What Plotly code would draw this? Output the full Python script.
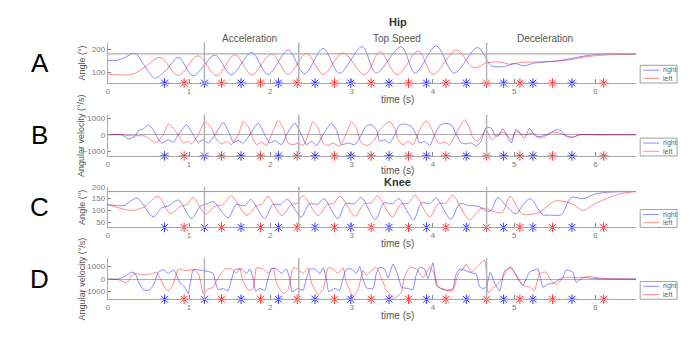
import plotly.graph_objects as go

# ---------------- data ----------------
phase_bounds = [1.19, 2.35, 4.66]
phase_names = ["Acceleration", "Top Speed", "Deceleration"]
phase_label_t = [1.74, 3.56, 5.38]

right_strikes = [0.70, 1.19, 1.64, 2.10, 2.55, 2.99, 3.46, 3.92, 4.41, 4.87, 5.23, 5.71]
left_strikes = [0.94, 1.40, 1.88, 2.33, 2.79, 3.24, 3.70, 4.16, 4.66, 5.07, 5.47, 6.10]

# A: hip angle
hipA_right_t = [0, 0.11, 0.2, 0.336, 0.45, 0.58, 0.72, 0.87, 1.05, 1.32, 1.52, 1.77, 1.97, 2.22, 2.42, 2.65,
                2.85, 3.13, 3.30, 3.61, 3.78, 4.04, 4.26, 4.55, 4.72, 4.88, 5.0, 5.12, 5.25, 5.4, 5.55, 5.7,
                5.85, 6.0, 6.2, 6.5]
hipA_right = [151, 151, 162, 183, 130, 74, 110, 165, 84, 175, 88, 187, 90, 197, 92, 204,
              95, 212, 96, 212, 96, 215, 96, 208, 128, 125, 138, 128, 140, 145, 150, 160,
              170, 178, 180, 180]
hipA_left_t = [0, 0.3, 0.45, 0.643, 0.87, 1.11, 1.34, 1.565, 1.77, 2.015, 2.22, 2.445, 2.65, 2.895, 3.16,
               3.35, 3.56, 3.82, 4.00, 4.29, 4.5, 4.66, 4.8, 4.95, 5.1, 5.3, 5.5, 5.7, 5.9, 6.1, 6.5]
hipA_left = [91, 90, 120, 165, 85, 172, 84, 177, 88, 180, 90, 183, 90, 185, 88,
             190, 88, 193, 90, 197, 120, 140, 145, 135, 143, 145, 148, 155, 168, 175, 178]

# B: hip angular velocity
hipB_right_t = [0.008, 0.172, 0.254, 0.336, 0.377, 0.438, 0.50, 0.561, 0.602, 0.663, 0.745, 0.807, 0.868,
                0.97, 1.052, 1.114, 1.175, 1.237, 1.319, 1.421, 1.503, 1.544, 1.605, 1.667, 1.749, 1.851,
                1.933, 1.994, 2.056, 2.138, 2.199, 2.301, 2.383, 2.445, 2.506, 2.568, 2.649, 2.752, 2.813,
                2.875, 2.957, 3.039, 3.12, 3.182, 3.243, 3.305, 3.346, 3.407, 3.469, 3.530, 3.591, 3.653,
                3.735, 3.796, 3.837, 3.899, 3.960, 4.021, 4.083, 4.144, 4.226, 4.288, 4.349, 4.410, 4.472,
                4.533, 4.595, 4.656, 4.718, 4.759, 4.799, 4.861, 4.922, 4.963, 5.025, 5.086, 5.127, 5.188,
                5.229, 5.270, 5.332, 5.414, 5.516, 5.578, 5.639, 5.721, 5.803, 6.048, 6.5]
hipB_right = [0, 0, -250, -100, 250, 350, 600, 300, -100, -500, -300, -450, 0,
              600, 0, -450, -300, -500, 0, 750, 0, -450, -350, -500, 0, 700,
              0, -500, -350, -600, 0, 700, 0, -600, -400, -650, 0, 700, 300,
              -600, -500, -600, 0, 550, 600, 300, -400, -300, -500, 0, 600, 650,
              500, 0, -500, -400, -650, 0, 550, 700, 600, 0, -500, -550, -500,
              -700, -350, 450, 400, 0, -100, 350, -200, -500, 350, 0, -200, 400,
              100, -100, -100, 50, 300, 250, -100, -150, 0, 0, 0]
hipB_left_t = [0.008, 0.172, 0.254, 0.336, 0.459, 0.54, 0.602, 0.684, 0.745, 0.807, 0.868, 0.93, 0.991,
               1.032, 1.114, 1.196, 1.278, 1.339, 1.40, 1.462, 1.523, 1.605, 1.667, 1.728, 1.79, 1.831,
               1.892, 1.953, 2.015, 2.097, 2.158, 2.22, 2.28, 2.343, 2.404, 2.465, 2.526, 2.588, 2.649,
               2.71, 2.772, 2.854, 2.928, 3.0, 3.06, 3.12, 3.20, 3.284, 3.346, 3.407, 3.469, 3.530, 3.571,
               3.632, 3.694, 3.755, 3.796, 3.858, 3.919, 3.981, 4.042, 4.083, 4.144, 4.206, 4.247, 4.329,
               4.390, 4.452, 4.493, 4.554, 4.595, 4.656, 4.718, 4.799, 4.861, 4.902, 4.963, 5.025, 5.086,
               5.148, 5.229, 5.311, 5.393, 5.475, 5.557, 5.639, 5.721, 5.803, 6.1, 6.5]
hipB_left = [0, 0, -50, -60, -80, -350, -450, 0, 650, 400, 0, -500, -400,
             -550, 0, 800, 400, -300, -550, -400, -600, 0, 800, 500, -300, -600,
             -450, -650, 0, 850, 400, -500, -600, -500, -650, 0, 800, 400, -500,
             -650, -500, -700, 0, 800, 400, -500, -650, -300, 300, 600, 800, 400, -300,
             -600, -400, -600, -200, 500, 850, 400, -300, -550, -450, -600, -300, 500,
             900, 400, -200, -400, -100, 300, -300, 0, 150, 50, -300, 200, 50,
             0, 100, -200, -50, 150, 100, -50, -150, 0, 0, 0]

# C: knee angle
kneeC_right_t = [0, 0.2, 0.36, 0.56, 0.66, 0.75, 0.87, 1.03, 1.14, 1.22, 1.30, 1.48, 1.58, 1.68, 1.76, 1.93,
                 2.03, 2.13, 2.21, 2.38, 2.48, 2.58, 2.66, 2.83, 2.93, 3.03, 3.12, 3.29, 3.40, 3.50, 3.58,
                 3.76, 3.86, 3.96, 4.04, 4.22, 4.33, 4.45, 4.55, 4.7, 4.8, 4.9, 5.02, 5.12, 5.2, 5.35, 5.45,
                 5.58, 5.7, 5.85, 6.0, 6.2, 6.5]
kneeC_right = [125, 121, 152, 72, 110, 120, 144, 65, 118, 128, 137, 68, 125, 120, 146, 65,
               125, 125, 148, 72, 128, 126, 150, 65, 130, 128, 155, 62, 132, 128, 150,
               60, 132, 128, 152, 62, 128, 120, 118, 95, 155, 120, 85, 130, 150, 82, 80,
               82, 155, 150, 170, 178, 180]
kneeC_left_t = [0, 0.29, 0.45, 0.62, 0.77, 0.9, 0.98, 1.05, 1.2, 1.32, 1.42, 1.52, 1.71, 1.83, 1.9, 1.97,
                2.14, 2.26, 2.33, 2.40, 2.59, 2.70, 2.78, 2.86, 3.04, 3.15, 3.24, 3.32, 3.50, 3.61, 3.70,
                3.78, 3.96, 4.07, 4.16, 4.24, 4.45, 4.6, 4.75, 4.85, 4.95, 5.1, 5.3, 5.5, 5.7, 5.85, 6.0,
                6.3, 6.5]
kneeC_left = [125, 100, 115, 160, 86, 118, 125, 155, 85, 118, 125, 162, 79, 120, 128, 160,
              78, 125, 130, 163, 78, 125, 130, 160, 75, 128, 132, 162, 72, 128, 130,
              165, 72, 130, 130, 165, 60, 110, 95, 90, 160, 85, 90, 140, 130, 100, 130,
              170, 180]

# D: knee angular velocity
kneeD_right_t = [0.008, 0.131, 0.233, 0.295, 0.336, 0.385, 0.438, 0.50, 0.54, 0.581, 0.622, 0.684, 0.745,
                 0.807, 0.848, 0.889, 0.95, 0.99, 1.02, 1.052, 1.155, 1.237, 1.298, 1.327, 1.36, 1.42, 1.48,
                 1.515, 1.564, 1.646, 1.708, 1.749, 1.79, 1.818, 1.871, 1.933, 1.966, 2.015, 2.076, 2.138,
                 2.199, 2.24, 2.268, 2.342, 2.404, 2.437, 2.486, 2.547, 2.609, 2.65, 2.69, 2.719, 2.793,
                 2.854, 2.887, 2.936, 2.998, 3.059, 3.10, 3.14, 3.182, 3.264, 3.305, 3.346, 3.407, 3.448,
                 3.51, 3.571, 3.612, 3.694, 3.755, 3.788, 3.837, 3.899, 3.94, 4.001, 4.042, 4.083, 4.165,
                 4.247, 4.28, 4.329, 4.41, 4.472, 4.533, 4.574, 4.615, 4.656, 4.705, 4.759, 4.82, 4.881,
                 4.963, 5.045, 5.107, 5.188, 5.291, 5.352, 5.414, 5.475, 5.598, 5.639, 5.721, 5.762, 5.844,
                 6.048, 6.5]
kneeD_right = [0, 0, 300, 550, 450, -300, -850, -900, -700, -200, 550, 750, 450,
               730, 300, -300, -650, -1150, -200, 750, 700, 600, 450, -300, -850, -750, -950,
               -200, 750, 800, 450, 800, 0, -950, -750, -900, -100, 850, 800, 450,
               800, 0, -1000, -750, -900, -100, 800, 800, 450, 900, 0, -1000, -750,
               -900, -100, 800, 800, 450, 1000, 0, -700, -760, 500, 940, 800, 100,
               1200, 300, -650, -750, -850, 200, 940, 800, 50, 1300, -500, -700, -900,
               -750, 300, 800, 650, 500, 400, -600, -750, -650, 550, -300, -950, 650,
               940, 0, -500, 550, 800, -650, -400, -350, 150, 730, 550, -250, 100,
               20, 0]
kneeD_left_t = [0.008, 0.131, 0.233, 0.315, 0.459, 0.54, 0.602, 0.655, 0.704, 0.745, 0.807, 0.868, 0.95,
                1.052, 1.114, 1.146, 1.175, 1.237, 1.298, 1.36, 1.441, 1.523, 1.585, 1.626, 1.655, 1.728,
                1.79, 1.83, 1.912, 1.974, 2.035, 2.076, 2.158, 2.22, 2.28, 2.342, 2.404, 2.465, 2.506,
                2.588, 2.65, 2.71, 2.772, 2.834, 2.895, 2.937, 3.018, 3.08, 3.14, 3.182, 3.243, 3.305,
                3.366, 3.43, 3.53, 3.61, 3.65, 3.714, 3.796, 3.878, 3.96, 4.021, 4.062, 4.165, 4.247,
                4.308, 4.37, 4.41, 4.472, 4.513, 4.595, 4.636, 4.66, 4.68, 4.72, 4.80, 4.86, 4.94, 5.02,
                5.107, 5.19, 5.25, 5.31, 5.39, 5.45, 5.52, 5.6, 5.68, 5.76, 5.84, 5.93, 6.05, 6.2, 6.5]
kneeD_left = [0, -50, -300, 400, 350, 420, 550, -100, -700, -950, -400, 800, 680,
              730, 450, -300, -1150, -800, -650, 100, 800, 800, 450, 850, 0, -900,
              -750, 900, 800, 450, 900, -300, -1150, -850, 900, 800, 450, 900, -300,
              -1250, -850, 900, 800, 450, 900, -300, -1350, -850, 700, 290, 700, 940,
              100, -900, -1500, -1100, 200, 940, 800, 100, 940, 400, -600, -900, -900,
              400, 800, 1200, 550, 800, 1330, 1500, 500, -1100, -800, -400, 150, 900, 400,
              -500, -650, -900, 420, 550, -100, -450, 100, 150, 100, 150, 200, 80, 20, 0]

x_ticks = [0, 1, 2, 3, 4, 5, 6]
ticks_A = [100, 200]
ticks_B = [-1000, 0, 1000]
ticks_C = [50, 100, 150, 200]
ticks_D = [-1000, 0, 1000]
ref_angle = 180

# ---------------- geometry / style ----------------
W, H = 700, 344
FONT = "Liberation Sans, Arial, Helvetica, sans-serif"
BLUE = "rgba(0,0,255,0.45)"
RED = "rgba(255,0,0,0.45)"
AXC = "#a8a8a8"
TXT = "#7a7a7a"

def py(v):
    return 1 - v / H

x_dom = [106 / W, 636 / W]
x_range = [0, 6.5]

panels = [
    dict(top=39, bot=80, yr=[52, 230], ticks=ticks_A, rt=hipA_right_t, r=hipA_right, lt=hipA_left_t,
         l=hipA_left, ylab="Angle (°)", tl=97, ref=True, sm=0.9),
    dict(top=112, bot=153.7, yr=[-1284, 1218], ticks=ticks_B, rt=hipB_right_t, r=hipB_right, lt=hipB_left_t,
         l=hipB_left, ylab="Angular velocity (°/s)", tl=168, ref=False, sm=0.6),
    dict(top=185, bot=226, yr=[28, 200], ticks=ticks_C, rt=kneeC_right_t, r=kneeC_right, lt=kneeC_left_t,
         l=kneeC_left, ylab="Angle (°)", tl=242, ref=True, sm=0.8),
    dict(top=257, bot=298.7, yr=[-1606, 1677], ticks=ticks_D, rt=kneeD_right_t, r=kneeD_right, lt=kneeD_left_t,
         l=kneeD_left, ylab="Angular velocity (°/s)", tl=315, ref=False, sm=0.45),
]
letters = ["A", "B", "C", "D"]

fig = go.Figure()
shapes = []
annotations = []
layout = dict(width=W, height=H, margin=dict(l=0, r=0, t=0, b=0), paper_bgcolor="white",
              plot_bgcolor="white", showlegend=False, font=dict(family=FONT))

for i, p in enumerate(panels):
    n = "" if i == 0 else str(i + 1)
    xa, ya = "x" + n, "y" + n
    base = p["yr"][0]
    fig.add_trace(go.Scatter(x=p["rt"], y=p["r"], mode="lines", xaxis=xa, yaxis=ya,
                             line=dict(color=BLUE, width=1, shape="spline", smoothing=p["sm"]),
                             name="right", hoverinfo="skip"))
    fig.add_trace(go.Scatter(x=p["lt"], y=p["l"], mode="lines", xaxis=xa, yaxis=ya,
                             line=dict(color=RED, width=1, shape="spline", smoothing=p["sm"]),
                             name="left", hoverinfo="skip"))
    fig.add_trace(go.Scatter(x=right_strikes, y=[base] * len(right_strikes), mode="markers",
                             xaxis=xa, yaxis=ya, cliponaxis=False,
                             marker=dict(symbol="asterisk-open", size=8, color="rgba(0,0,255,0.8)",
                                         line=dict(color="rgba(0,0,255,0.8)", width=1)),
                             hoverinfo="skip"))
    fig.add_trace(go.Scatter(x=left_strikes, y=[base] * len(left_strikes), mode="markers",
                             xaxis=xa, yaxis=ya, cliponaxis=False,
                             marker=dict(symbol="asterisk-open", size=8, color="rgba(255,0,0,0.8)",
                                         line=dict(color="rgba(255,0,0,0.8)", width=1)),
                             hoverinfo="skip"))
    layout["xaxis" + n] = dict(domain=x_dom, range=x_range, anchor=ya, tickvals=x_ticks,
                               ticks="inside", ticklen=4, tickcolor="#888", showline=True,
                               linecolor=AXC, linewidth=1.3, showgrid=False, zeroline=False,
                               tickfont=dict(size=8, color=TXT, family=FONT))
    layout["yaxis" + n] = dict(domain=[py(p["bot"]), py(p["top"])], range=p["yr"], anchor=xa,
                               tickvals=p["ticks"], ticks="inside", ticklen=3, tickcolor="#888",
                               showline=True, linecolor=AXC, linewidth=1, showgrid=False,
                               zeroline=not p["ref"], zerolinecolor="#b0b0b0", zerolinewidth=1,
                               tickfont=dict(size=8, color=TXT, family=FONT))
    if p["ref"]:
        shapes.append(dict(type="line", xref=xa + " domain", yref=ya, x0=0, x1=1, y0=ref_angle,
                           y1=ref_angle, line=dict(color="#9a9a9a", width=1)))
    for b in phase_bounds:
        shapes.append(dict(type="line", xref=xa, yref=ya + " domain", x0=b, x1=b, y0=0, y1=1,
                           line=dict(color="#b4b4b4", width=1.5)))
    lx0, lx1 = 640, 677
    ly1 = p["bot"]
    ly0 = ly1 - 18
    shapes.append(dict(type="rect", xref="paper", yref="paper", x0=lx0 / W, x1=lx1 / W,
                       y0=py(ly1), y1=py(ly0), line=dict(color="#a0a0a0", width=1),
                       fillcolor="white"))
    for k, (c, lab) in enumerate([(BLUE, "right"), (RED, "left")]):
        yy = ly0 + 5 + k * 8.3
        shapes.append(dict(type="line", xref="paper", yref="paper", x0=643 / W, x1=659 / W,
                           y0=py(yy), y1=py(yy), line=dict(color=c, width=1)))
        annotations.append(dict(text=lab, x=661 / W, y=py(yy), xref="paper", yref="paper",
                                xanchor="left", yanchor="middle", showarrow=False,
                                font=dict(size=7, color="#666", family=FONT)))
    annotations.append(dict(text=p["ylab"], x=80 / W, y=py((p["top"] + p["bot"]) / 2), xref="paper",
                            yref="paper", textangle=-90, showarrow=False, xanchor="center",
                            yanchor="middle", font=dict(size=9, color="#555", family=FONT)))
    annotations.append(dict(text="time (s)", x=397 / W, y=py(p["tl"]), xref="paper", yref="paper",
                            showarrow=False, xanchor="center", yanchor="middle",
                            font=dict(size=10, color="#555", family=FONT)))
    annotations.append(dict(text=letters[i], x=38 / W, y=py((p["top"] + p["bot"]) / 2), xref="paper",
                            yref="paper", showarrow=False, xanchor="center", yanchor="middle",
                            font=dict(size=26, color="black", family=FONT)))

annotations.append(dict(text="<b>Hip</b>", x=397 / W, y=py(18), xref="paper", yref="paper",
                        showarrow=False, xanchor="center", yanchor="middle",
                        font=dict(size=11, color="#333", family=FONT)))
annotations.append(dict(text="<b>Knee</b>", x=397 / W, y=py(180), xref="paper", yref="paper",
                        showarrow=False, xanchor="center", yanchor="middle",
                        font=dict(size=11, color="#333", family=FONT)))
for name, t in zip(phase_names, phase_label_t):
    annotations.append(dict(text=name, x=t, y=py(35), xref="x", yref="paper", showarrow=False,
                            xanchor="center", yanchor="middle",
                            font=dict(size=10, color="#555", family=FONT)))

layout["shapes"] = shapes
layout["annotations"] = annotations
fig.update_layout(**layout)
fig.write_html("out.html")
